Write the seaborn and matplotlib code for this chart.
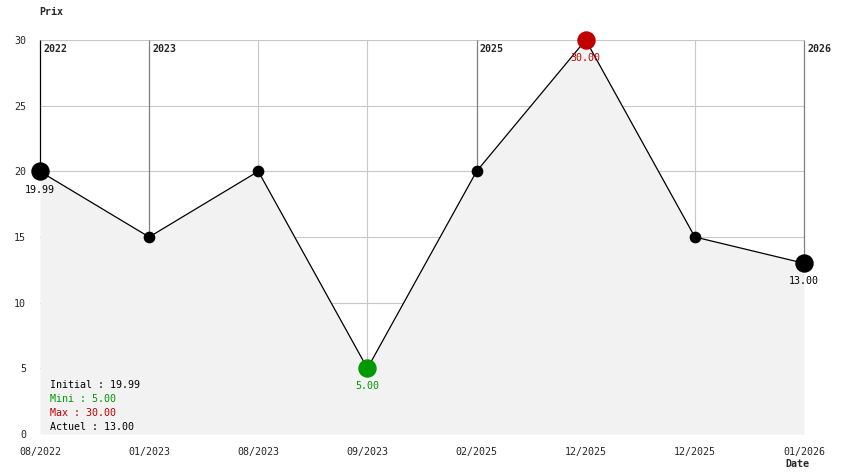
import matplotlib
matplotlib.use("Agg")
import matplotlib.pyplot as plt
import numpy as np
import pandas as pd
import seaborn as sns

# price history
dates = ["08/2022", "01/2023", "08/2023", "09/2023", "02/2025", "12/2025", "12/2025", "01/2026"]
prices = [19.99, 15, 20, 5, 20, 30, 15, 13]
years = {0: "2022", 1: "2023", 4: "2025", 7: "2026"}

sns.set_style("white")
plt.rcParams["font.family"] = ["DejaVu Sans Mono"]
fs = 7.2

df = pd.DataFrame({"pos": np.arange(len(prices)), "prix": prices})

fig = plt.figure(figsize=(8.44, 4.74), dpi=100)
ax = fig.add_axes([40 / 844, 1 - 434 / 474, 764 / 844, 394 / 474])

# grid
for y in range(5, 31, 5):
    ax.axhline(y, color="#c8c8c8", lw=0.8, zorder=0)
for i, p in zip(df["pos"], df["prix"]):
    if i in years:
        ax.vlines(i, p, 30, color="black" if i == 0 else "#808080", lw=0.9, zorder=0, clip_on=False)
        ax.text(i + 0.03, 29.3, years[i], fontsize=fs, fontweight="bold", va="center", ha="left")
    else:
        ax.vlines(i, p, 30, color="#c8c8c8", lw=0.8, zorder=0)

ax.fill_between(df["pos"], df["prix"], 0, color="#f2f2f2", zorder=1, lw=0)
sns.lineplot(data=df, x="pos", y="prix", color="black", lw=0.9, ax=ax, zorder=2)

i_min = int(np.argmin(prices))
i_max = int(np.argmax(prices))
last = len(prices) - 1
big = {0: "black", last: "black", i_min: "#009900", i_max: "#c00000"}
small = df[~df["pos"].isin(list(big))]
ax.scatter(small["pos"], small["prix"], s=55, color="black", zorder=3, clip_on=False)
for i, c in big.items():
    ax.scatter(i, prices[i], s=150, color=c, zorder=4, clip_on=False)
    ax.annotate(f"{prices[i]:.2f}", (i, prices[i]), xytext=(0, -13), textcoords="offset points",
                ha="center", va="center", fontsize=fs, color="#009900" if i == i_min else ("#c00000" if i == i_max else "black"))

stats = [(f"Initial : {prices[0]:.2f}", "black"),
         (f"Mini : {prices[i_min]:.2f}", "#009900"),
         (f"Max : {prices[i_max]:.2f}", "#c00000"),
         (f"Actuel : {prices[last]:.2f}", "black")]
for k, (t, c) in enumerate(stats):
    ax.text(10 / 764, (434 - 385 - 14 * k) / 394, t, transform=ax.transAxes,
            fontsize=fs, color=c, va="center", ha="left")

ax.set_xlim(0, last)
ax.set_ylim(0, 30)
ax.set_xticks(df["pos"])
ax.set_xticklabels(dates, fontsize=fs)
ax.set_yticks(range(0, 31, 5))
ax.set_yticklabels([str(v) for v in range(0, 31, 5)], fontsize=fs)
ax.tick_params(axis="x", length=0, pad=9)
ax.tick_params(axis="y", length=0, pad=10)
ax.set_xlabel("")
ax.set_ylabel("")
for s in ax.spines.values():
    s.set_visible(False)

fig.text(39 / 844, 1 - 12 / 474, "Prix", fontsize=fs, fontweight="bold", ha="left", va="center")
fig.text(797 / 844, 1 - 464 / 474, "Date", fontsize=fs, fontweight="bold", ha="center", va="center")

fig.savefig("out.png", dpi=100)
